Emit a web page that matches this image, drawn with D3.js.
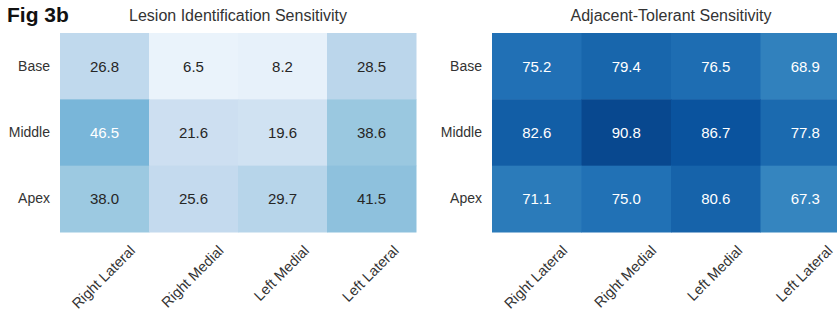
<!DOCTYPE html>
<html><head><meta charset="utf-8">
<script src="https://cdn.jsdelivr.net/npm/d3@7"></script>
<style>body{margin:0;background:#fff;overflow:hidden}svg{display:block;font-family:"Liberation Sans",Arial,sans-serif}</style>
</head><body><svg id="c" width="837" height="316"></svg>
<script>
const rows = ["Base", "Middle", "Apex"];
const cols = ["Right Lateral", "Right Medial", "Left Medial", "Left Lateral"];
const lesionValues = [
  [26.8, 6.5, 8.2, 28.5],
  [46.5, 21.6, 19.6, 38.6],
  [38.0, 25.6, 29.7, 41.5]
];
const adjacentValues = [
  [75.2, 79.4, 76.5, 68.9],
  [82.6, 90.8, 86.7, 77.8],
  [71.1, 75.0, 80.6, 67.3]
];
const panelTitles = ["Lesion Identification Sensitivity", "Adjacent-Tolerant Sensitivity"];
const figLabel = "Fig 3b";
const bluesStops = ["#f7fbff","#deebf7","#c6dbef","#9ecae1","#6baed6","#4292c6","#2171b5","#08519c","#08306b"];

const svg = d3.select("#c");
const color = d3.scaleLinear()
  .domain(bluesStops.map((_, i) => i * 100 / (bluesStops.length - 1)))
  .range(bluesStops).interpolate(d3.interpolateRgb);

function lum(c) {
  const r = d3.rgb(c);
  const f = v => { v /= 255; return v <= 0.03928 ? v / 12.92 : Math.pow((v + 0.055) / 1.055, 2.4); };
  return 0.2126 * f(r.r) + 0.7152 * f(r.g) + 0.0722 * f(r.b);
}

function panel(x0, w, values, title) {
  const y0 = 33, h = 199;
  const x = d3.scaleBand().domain(cols).range([x0, x0 + w]);
  const y = d3.scaleBand().domain(rows).range([y0, y0 + h]);
  const g = svg.append("g");
  rows.forEach((r, i) => cols.forEach((c, j) => {
    const v = values[i][j];
    const fill = color(v);
    g.append("rect").attr("x", x(c)).attr("y", y(r))
      .attr("width", x.bandwidth() + 0.5).attr("height", y.bandwidth() + 0.5)
      .attr("fill", fill);
    g.append("text").attr("x", x(c) + x.bandwidth() / 2).attr("y", y(r) + y.bandwidth() / 2)
      .attr("text-anchor", "middle").attr("dominant-baseline", "central")
      .attr("font-size", 15).attr("fill", lum(fill) < 0.45 ? "#ffffff" : "#262626")
      .text(v.toFixed(1));
  }));
  const ya = d3.axisLeft(y).tickSize(0).tickPadding(10);
  const ag = svg.append("g").attr("transform", `translate(${x0},0)`).call(ya);
  ag.select(".domain").remove();
  ag.selectAll("text").attr("font-size", 14).attr("fill", "#333")
    .attr("font-family", '"Liberation Sans",Arial,sans-serif');
  cols.forEach(c => {
    const t = svg.append("text").attr("font-size", 14.5).attr("fill", "#333")
      .attr("text-anchor", "middle").attr("dominant-baseline", "central").text(c);
    const L = t.node().getComputedTextLength();
    const ext = (L + 14) * Math.SQRT1_2;
    const cx = x(c) + x.bandwidth() / 2 - 1, cy = y0 + h + 11 + ext / 2;
    t.attr("x", cx).attr("y", cy).attr("transform", `rotate(-45,${cx},${cy})`);
  });
  svg.append("text").attr("x", x0 + w / 2).attr("y", 21).attr("text-anchor", "middle")
    .attr("font-size", 16).attr("fill", "#333").text(title);
}

panel(60, 356, lesionValues, panelTitles[0]);
panel(492, 358, adjacentValues, panelTitles[1]);
svg.append("text").attr("x", 7).attr("y", 22).attr("font-size", 21).attr("font-weight", "bold")
  .attr("fill", "#111").text(figLabel);
</script></body></html>
